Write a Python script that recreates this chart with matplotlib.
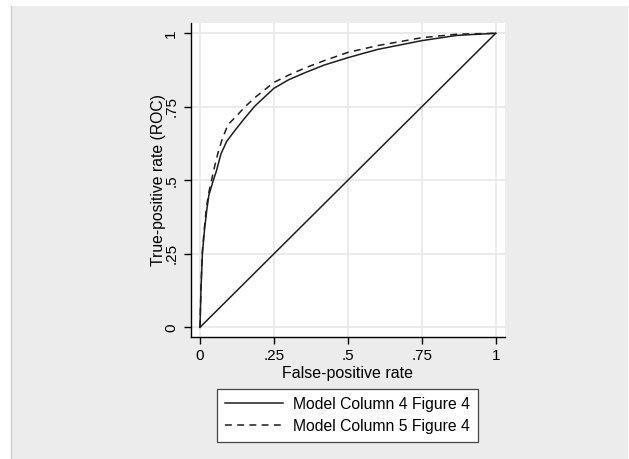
import matplotlib
matplotlib.use("Agg")
import matplotlib.pyplot as plt
from matplotlib.patches import Rectangle

# ROC data
fpr_col4 = [0, 0.003, 0.008, 0.015, 0.023, 0.03, 0.045, 0.055, 0.071, 0.09, 0.12, 0.15,
            0.185, 0.25, 0.30, 0.355, 0.42, 0.50, 0.60, 0.75, 0.87, 1.0]
tpr_col4 = [0, 0.12, 0.25, 0.33, 0.40, 0.45, 0.50, 0.53, 0.59, 0.632, 0.672, 0.71,
            0.752, 0.813, 0.842, 0.866, 0.892, 0.917, 0.945, 0.975, 0.993, 1.0]
fpr_col5 = [0, 0.003, 0.008, 0.015, 0.022, 0.03, 0.039, 0.05, 0.06, 0.075, 0.095, 0.12,
            0.152, 0.19, 0.25, 0.30, 0.355, 0.42, 0.50, 0.60, 0.75, 0.87, 1.0]
tpr_col5 = [0, 0.13, 0.26, 0.34, 0.41, 0.46, 0.50, 0.55, 0.59, 0.64, 0.69, 0.715,
            0.75, 0.785, 0.833, 0.858, 0.882, 0.907, 0.935, 0.958, 0.985, 0.997, 1.0]
ref_x = [0, 1]
ref_y = [0, 1]
ticks = [0, 0.25, 0.5, 0.75, 1]
tick_labels = ["0", ".25", ".5", ".75", "1"]
legend_labels = ["Model Column 4 Figure 4", "Model Column 5 Figure 4"]

plt.rcParams['font.family'] = ['Liberation Sans', 'DejaVu Sans']

W, H = 629, 459
fig = plt.figure(figsize=(W / 100, H / 100), dpi=100, facecolor="white")

# gray graph region
fig.patches.append(Rectangle((11 / W, 0), (628 - 11) / W, (H - 6) / H,
                             transform=fig.transFigure, facecolor="#ececec",
                             edgecolor="none", zorder=-10))
fig.add_artist(plt.Line2D([11 / W, 11 / W], [0, (H - 6) / H], transform=fig.transFigure,
                          color="#cfcfcf", lw=1.0))

ax = fig.add_axes([190.7 / W, 1 - 337 / H, (505 - 190.7) / W, (337 - 23) / H])
ax.set_facecolor("white")

lc = "#1e1e1e"
l1, = ax.plot(fpr_col4, tpr_col4, color=lc, lw=1.1, solid_joinstyle="round")
l2, = ax.plot(fpr_col5, tpr_col5, color=lc, lw=1.1, dashes=(4.5, 3.5))
ax.plot(ref_x, ref_y, color=lc, lw=1.1)

ax.set_xlim(-0.0315, 1.0314)
ax.set_ylim(-0.033, 1.035)
ax.set_xticks(ticks)
ax.set_xticklabels(tick_labels)
ax.set_yticks(ticks)
ax.set_yticklabels(tick_labels, rotation=90, va="center")
ax.grid(True, color="#e8e8e8", lw=1.2)
ax.set_axisbelow(True)
for s in ["top", "right"]:
    ax.spines[s].set_visible(False)
for s in ["left", "bottom"]:
    ax.spines[s].set_color("black")
    ax.spines[s].set_linewidth(1.0)
ax.tick_params(direction="out", length=5, width=1.0, color="black",
               labelsize=11, pad=4)
ax.set_xlabel("False-positive rate", fontsize=11.5, labelpad=2)
ax.set_ylabel("True-positive rate (ROC)", fontsize=11.3, labelpad=-1)

leg = fig.legend([l1, l2], legend_labels, loc="upper center",
                 bbox_to_anchor=(347.5 / W, 1 - 389 / H),
                 fontsize=11.3, frameon=True, fancybox=False, ncol=1,
                 handlelength=3.7, handletextpad=0.65, labelspacing=0.45,
                 borderpad=0.5, borderaxespad=0)
fr = leg.get_frame()
fr.set_facecolor("white")
fr.set_edgecolor("#444444")
fr.set_linewidth(0.9)
fr.set_alpha(1)

fig.savefig("out.png", dpi=100, facecolor="white")
